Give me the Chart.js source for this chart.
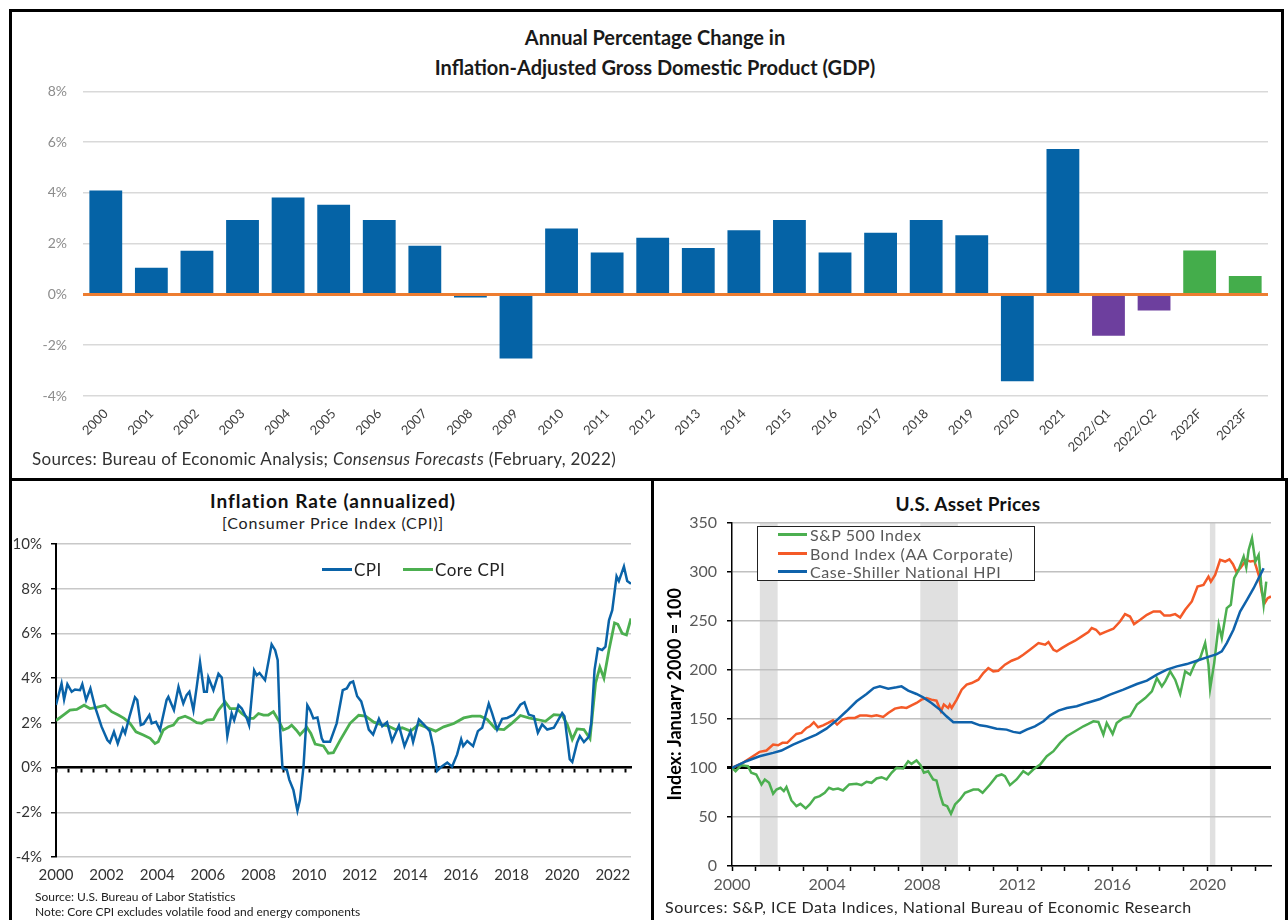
<!DOCTYPE html>
<html lang="en">
<head>
<meta charset="UTF-8">
<title>GDP, Inflation and U.S. Asset Prices</title>
<script src="https://cdn.jsdelivr.net/npm/chart.js"></script>
<style>
  body { margin: 0; background: #fff; font-family: Lato, "Open Sans", sans-serif; }
  #page { position: relative; width: 1288px; height: 920px; overflow: hidden; }
  .panel { position: absolute; border: 3px solid #000; box-sizing: border-box; }
  canvas, .txt { position: absolute; }
  .txt { white-space: nowrap; }
  .lg { position: absolute; height: 3px; }
</style>
</head>
<body>
<div id="page">
  <div class="panel" style="left:9px;top:9px;width:1275px;height:472px;"></div>
  <div class="panel" style="left:9px;top:478px;width:645px;height:460px;"></div>
  <div class="panel" style="left:651px;top:478px;width:637px;height:460px;"></div>

  <!-- top: GDP -->
  <div class="txt" style="left:355px;top:22px;width:600px;text-align:center;font-size:20px;line-height:30px;font-weight:bold;color:#1a1a1a;">
    Annual Percentage Change in<br>Inflation-Adjusted Gross Domestic Product (GDP)
  </div>
  <canvas id="gdpChart" width="1268" height="385" style="left:12px;top:67px;"></canvas>
  <div class="txt" style="left:32px;top:448px;font-size:17px;letter-spacing:0.3px;color:#333;">
    Sources: Bureau of Economic Analysis; <i>Consensus Forecasts</i> (February, 2022)
  </div>

  <!-- bottom left: inflation -->
  <div class="txt" style="left:133px;top:489px;width:400px;text-align:center;font-size:19px;letter-spacing:1px;font-weight:bold;color:#111;">Inflation Rate (annualized)</div>
  <div class="txt" style="left:133px;top:513px;width:400px;text-align:center;font-size:16px;letter-spacing:0.8px;color:#222;">[Consumer Price Index (CPI)]</div>
  <canvas id="cpiChart" width="636" height="374" style="left:12px;top:526px;"></canvas>
  <div class="lg" style="left:322px;top:568px;width:30px;background:#0a63a8;"></div>
  <div class="txt" style="left:354px;top:559px;font-size:17px;letter-spacing:0.5px;color:#222;">CPI</div>
  <div class="lg" style="left:403px;top:568px;width:30px;background:#4caf50;"></div>
  <div class="txt" style="left:435px;top:559px;font-size:17px;letter-spacing:0.5px;color:#222;">Core CPI</div>
  <div class="txt" style="left:35px;top:889px;font-size:12px;color:#222;">Source: U.S. Bureau of Labor Statistics</div>
  <div class="txt" style="left:35px;top:904px;font-size:12px;color:#222;">Note: Core CPI excludes volatile food and energy components</div>

  <!-- bottom right: asset prices -->
  <div class="txt" style="left:768px;top:492px;width:400px;text-align:center;font-size:19px;letter-spacing:0.3px;font-weight:bold;color:#111;">U.S. Asset Prices</div>
  <canvas id="assetChart" width="628" height="397" style="left:656px;top:503px;"></canvas>
  <div class="txt" style="left:757px;top:526px;width:278px;height:55px;background:#fff;border:1.5px solid #222;box-sizing:border-box;"></div>
  <div class="lg" style="left:778px;top:533px;width:29px;background:#4caf50;"></div>
  <div class="txt" style="left:810px;top:525px;font-size:16px;letter-spacing:0.6px;color:#595959;">S&amp;P 500 Index</div>
  <div class="lg" style="left:778px;top:552px;width:29px;background:#f45a28;"></div>
  <div class="txt" style="left:810px;top:544px;font-size:16px;letter-spacing:0.6px;color:#595959;">Bond Index (AA Corporate)</div>
  <div class="txt" style="left:810px;top:562px;font-size:16px;letter-spacing:0.6px;color:#595959;">Case-Shiller National HPI</div>
  <div class="lg" style="left:778px;top:570px;width:29px;background:#0f62ab;"></div>
  <div class="txt" style="left:665px;top:897px;font-size:16px;letter-spacing:0.5px;color:#262626;">Sources: S&amp;P, ICE Data Indices, National Bureau of Economic Research</div>
</div>

<script>
// ---- GDP (annual % change) ----
const gdpLabels = ['2000', '2001', '2002', '2003', '2004', '2005', '2006', '2007', '2008', '2009',
  '2010', '2011', '2012', '2013', '2014', '2015', '2016', '2017', '2018', '2019', '2020', '2021',
  '2022/Q1', '2022/Q2', '2022F', '2023F'];
const gdpValues = [4.1, 1.05, 1.72, 2.93, 3.82, 3.53, 2.93, 1.92, -0.12, -2.52,
  2.6, 1.65, 2.23, 1.83, 2.53, 2.93, 1.65, 2.43, 2.93, 2.33, -3.42, 5.73,
  -1.63, -0.63, 1.73, 0.73];
const gdpTicks = [-4, -2, 0, 2, 4, 6, 8];

// ---- Inflation (annualized, %) ----
const cpiYears = [2000.0, 2000.22, 2000.32, 2000.45, 2000.62, 2000.75, 2000.95, 2001.04, 2001.19, 2001.36,
  2001.54, 2001.8, 2002.03, 2002.13, 2002.29, 2002.44, 2002.64, 2002.73, 2002.92, 2003.12,
  2003.21, 2003.35, 2003.46, 2003.69, 2003.78, 2003.95, 2004.11, 2004.37, 2004.44, 2004.66,
  2004.84, 2004.93, 2005.03, 2005.16, 2005.27, 2005.43, 2005.56, 2005.69, 2005.85, 2005.96,
  2006.02, 2006.22, 2006.42, 2006.55, 2006.68, 2006.77, 2006.94, 2007.04, 2007.21, 2007.34,
  2007.54, 2007.63, 2007.83, 2007.93, 2008.04, 2008.26, 2008.52, 2008.66, 2008.76, 2008.85,
  2008.95, 2009.12, 2009.22, 2009.38, 2009.54, 2009.64, 2009.78, 2009.93, 2010.04, 2010.17,
  2010.33, 2010.5, 2010.57, 2010.83, 2011.09, 2011.33, 2011.49, 2011.62, 2011.74, 2011.9,
  2012.06, 2012.19, 2012.36, 2012.53, 2012.76, 2012.89, 2013.08, 2013.28, 2013.55, 2013.77,
  2014.01, 2014.11, 2014.34, 2014.53, 2014.77, 2014.9, 2015.06, 2015.19, 2015.46, 2015.65,
  2015.85, 2016.01, 2016.09, 2016.25, 2016.48, 2016.67, 2016.84, 2017.1, 2017.23, 2017.43,
  2017.63, 2017.83, 2018.09, 2018.35, 2018.51, 2018.68, 2018.88, 2019.04, 2019.21, 2019.41,
  2019.67, 2020.0, 2020.09, 2020.3, 2020.4, 2020.59, 2020.7, 2020.86, 2021.06, 2021.15,
  2021.28, 2021.41, 2021.58, 2021.71, 2021.85, 2021.98, 2022.15, 2022.24, 2022.44, 2022.57,
  2022.72];
const cpiValues = [2.8, 3.76, 3.05, 3.73, 3.39, 3.49, 3.46, 3.73, 3.02, 3.54,
  2.72, 1.83, 1.23, 1.11, 1.6, 1.08, 1.75, 1.53, 2.35, 3.14,
  3.02, 1.9, 1.95, 2.35, 1.98, 2.05, 1.68, 3.02, 3.16, 2.57,
  3.61, 3.24, 2.87, 3.24, 3.39, 2.57, 3.61, 4.72, 3.39, 3.39,
  4.03, 3.46, 4.2, 4.03, 2.57, 1.41, 2.42, 2.12, 2.79, 2.64,
  2.2, 1.9, 4.35, 4.13, 4.23, 3.91, 5.51, 5.25, 4.8, 1.83,
  -0.03, -0.1, -0.55, -1.0, -1.92, -1.44, 0.04, 2.79, 2.57, 2.2,
  2.24, 1.31, 1.16, 1.16, 1.98, 3.46, 3.54, 3.79, 3.85, 3.19,
  2.96, 2.44, 1.7, 1.48, 2.18, 1.85, 2.03, 1.19, 1.88, 0.96,
  1.63, 1.14, 2.15, 1.93, 1.63, 0.96, -0.15, 0, 0.22, 0.04,
  0.59, 1.26, 0.96, 1.19, 0.96, 1.63, 1.78, 2.86, 2.44, 1.7,
  2.18, 2.22, 2.37, 2.81, 2.92, 2.37, 2.3, 1.56, 1.93, 1.7,
  1.78, 2.44, 2.3, 0.37, 0.25, 1.11, 1.41, 1.14, 1.38, 2.0,
  4.37, 5.33, 5.26, 5.41, 6.59, 7.04, 8.55, 8.34, 8.99, 8.34,
  8.22];
const coreYears = [2000.0, 2000.29, 2000.55, 2000.82, 2001.11, 2001.34, 2001.61, 2001.94, 2002.2, 2002.46,
  2002.69, 2002.92, 2003.16, 2003.45, 2003.72, 2003.91, 2004.04, 2004.24, 2004.44, 2004.64,
  2004.84, 2005.1, 2005.3, 2005.56, 2005.76, 2005.96, 2006.22, 2006.42, 2006.68, 2006.88,
  2007.14, 2007.34, 2007.6, 2007.8, 2008.0, 2008.2, 2008.39, 2008.59, 2008.79, 2008.98,
  2009.18, 2009.31, 2009.49, 2009.64, 2009.91, 2010.07, 2010.24, 2010.57, 2010.76, 2010.96,
  2011.23, 2011.62, 2011.96, 2012.23, 2012.56, 2012.82, 2013.15, 2013.41, 2013.68, 2014.01,
  2014.34, 2014.67, 2015.0, 2015.32, 2015.72, 2016.11, 2016.44, 2016.77, 2017.04, 2017.37,
  2017.7, 2018.03, 2018.35, 2018.68, 2019.01, 2019.34, 2019.67, 2020.0, 2020.2, 2020.4,
  2020.59, 2020.86, 2021.1, 2021.32, 2021.49, 2021.65, 2021.85, 2022.07, 2022.2, 2022.37,
  2022.54, 2022.72];
const coreValues = [2.1, 2.35, 2.57, 2.6, 2.79, 2.64, 2.69, 2.79, 2.5, 2.35,
  2.2, 1.98, 1.6, 1.46, 1.31, 1.08, 1.16, 1.68, 1.83, 1.9,
  2.2, 2.3, 2.2, 2.01, 1.98, 2.12, 2.15, 2.57, 2.94, 2.64,
  2.64, 2.42, 2.2, 2.2, 2.42, 2.35, 2.35, 2.5, 2.12, 1.68,
  1.78, 1.9, 1.68, 1.46, 1.8, 1.53, 1.05, 0.97, 0.64, 0.67,
  1.23, 1.98, 2.34, 2.3, 2.03, 1.93, 1.85, 1.7, 1.78, 1.63,
  1.93, 1.78, 1.63, 1.82, 1.97, 2.22, 2.3, 2.3, 2.15, 1.73,
  1.7, 2.0, 2.33, 2.22, 2.15, 2.07, 2.37, 2.34, 1.93, 1.26,
  1.73, 1.7, 1.29, 3.78, 4.49, 4.0, 5.26, 6.47, 6.41, 6.0,
  5.93, 6.67];

// ---- U.S. asset prices (Jan 2000 = 100) ----
const spYears = [2000.0, 2000.15, 2000.39, 2000.67, 2000.81, 2001.02, 2001.24, 2001.38, 2001.56, 2001.73,
  2001.87, 2002.04, 2002.18, 2002.29, 2002.5, 2002.71, 2002.88, 2003.1, 2003.27, 2003.48,
  2003.69, 2003.9, 2004.08, 2004.25, 2004.46, 2004.67, 2004.93, 2005.24, 2005.45, 2005.66,
  2005.87, 2006.08, 2006.29, 2006.5, 2006.71, 2006.92, 2007.2, 2007.41, 2007.55, 2007.76,
  2007.93, 2008.07, 2008.25, 2008.46, 2008.6, 2008.77, 2008.88, 2009.05, 2009.21, 2009.38,
  2009.59, 2009.8, 2010.15, 2010.36, 2010.54, 2010.85, 2011.13, 2011.34, 2011.48, 2011.69,
  2011.97, 2012.25, 2012.46, 2012.67, 2012.96, 2013.24, 2013.52, 2013.8, 2014.08, 2014.43,
  2014.78, 2014.99, 2015.2, 2015.41, 2015.62, 2015.76, 2016.01, 2016.18, 2016.46, 2016.74,
  2017.03, 2017.38, 2017.66, 2017.87, 2018.08, 2018.22, 2018.43, 2018.64, 2018.85, 2019.06,
  2019.27, 2019.48, 2019.69, 2019.9, 2020.04, 2020.11, 2020.28, 2020.47, 2020.6, 2020.81,
  2020.98, 2021.12, 2021.31, 2021.52, 2021.63, 2021.73, 2021.87, 2022.01, 2022.15, 2022.26,
  2022.36, 2022.47];
const spValues = [100, 96.6, 102.7, 101.7, 95, 93.3, 83.1, 88.2, 84.8, 73.6,
  78, 79.7, 76.3, 80.4, 66.8, 61, 63.4, 58.7, 62.7, 69.5,
  71.2, 74.6, 79.7, 78, 79, 77, 83.1, 83.8, 82.4, 85.8,
  84.8, 89.2, 90.5, 88.2, 95, 100, 99.4, 106.8, 104.1, 107.5,
  102.7, 95, 96.6, 88.2, 87.1, 71.2, 62.7, 61, 53.2, 62.7,
  67.8, 74.6, 78, 78, 74.6, 83.1, 91.6, 93.3, 91.6, 82.4,
  88.2, 96.6, 93.3, 98.3, 103.4, 111.9, 117, 125.5, 132.2, 137.3,
  142.4, 144.8, 147.5, 146.8, 133.9, 145.8, 134.6, 145.8, 150.9, 152.6,
  164.5, 171.2, 178, 191.6, 183.1, 188.2, 198.4, 189.9, 175.3, 198.4,
  195, 206.8, 211.9, 227.2, 205.2, 180.7, 206.8, 245.8, 232.3, 262.8,
  266.2, 293.3, 301.8, 315.4, 304.2, 322.1, 334, 310.3, 317, 286.5,
  266.2, 289.9];
const bondYears = [2000.0, 2000.46, 2000.88, 2001.16, 2001.45, 2001.73, 2001.94, 2002.12, 2002.32, 2002.5,
  2002.71, 2002.92, 2003.13, 2003.27, 2003.44, 2003.62, 2003.83, 2004.04, 2004.25, 2004.42,
  2004.65, 2004.88, 2005.17, 2005.38, 2005.66, 2005.87, 2006.08, 2006.36, 2006.57, 2006.85,
  2007.13, 2007.34, 2007.55, 2007.76, 2007.97, 2008.18, 2008.39, 2008.6, 2008.79, 2008.91,
  2009.09, 2009.16, 2009.24, 2009.45, 2009.66, 2009.87, 2010.08, 2010.36, 2010.57, 2010.78,
  2010.99, 2011.2, 2011.48, 2011.76, 2012.04, 2012.25, 2012.53, 2012.89, 2013.17, 2013.31,
  2013.52, 2013.66, 2013.87, 2014.15, 2014.43, 2014.71, 2014.99, 2015.13, 2015.31, 2015.48,
  2015.76, 2016.04, 2016.32, 2016.53, 2016.74, 2016.91, 2017.17, 2017.45, 2017.73, 2018.01,
  2018.18, 2018.43, 2018.64, 2018.85, 2019.06, 2019.34, 2019.58, 2019.83, 2020.04, 2020.14,
  2020.32, 2020.53, 2020.74, 2020.92, 2021.07, 2021.21, 2021.38, 2021.63, 2021.8, 2021.97,
  2022.15, 2022.29, 2022.43, 2022.53, 2022.67];
const bondValues = [100, 105.1, 111.9, 116.3, 117.7, 123.8, 123.1, 125.5, 125.5, 129.9,
  134.6, 135.6, 140.7, 142.4, 146.5, 141.4, 143.4, 145.8, 148.5, 144.1,
  149.2, 150.9, 150.9, 153.3, 153.3, 152.6, 153.6, 151.9, 156, 160.4,
  161.8, 161.1, 163.8, 166.2, 169.6, 171.2, 169.6, 168.5, 157.7, 164.5,
  161.1, 164.5, 161.1, 169.6, 179.7, 184.8, 186.5, 189.9, 196.7, 201.8,
  198.4, 199, 205.2, 209.2, 211.9, 215.3, 220.4, 227.2, 225.5, 228.2,
  220.4, 218.7, 222.1, 226.2, 229.6, 234, 238.4, 242.5, 240.8, 236.3,
  239.1, 241.8, 249.2, 256.7, 254.3, 246.5, 250.9, 256, 259.4, 259.4,
  255.3, 255.3, 256.7, 253.3, 261.1, 269.6, 284.8, 286.5, 295, 289.9,
  296.7, 312, 310.3, 312.6, 307.6, 300.1, 303.5, 312, 310.3, 311,
  296.7, 278.1, 268.9, 273, 274.7];
const hpiYears = [2000.0, 2000.6, 2001.16, 2001.73, 2002.08, 2002.57, 2003.13, 2003.55, 2003.97, 2004.39,
  2004.81, 2005.24, 2005.66, 2005.96, 2006.22, 2006.57, 2006.92, 2007.13, 2007.41, 2007.76,
  2008.04, 2008.39, 2008.74, 2009.02, 2009.31, 2009.59, 2010.08, 2010.43, 2010.71, 2011.13,
  2011.55, 2011.83, 2012.11, 2012.39, 2012.74, 2013.1, 2013.38, 2013.73, 2014.08, 2014.5,
  2014.92, 2015.48, 2015.9, 2016.46, 2017.03, 2017.45, 2017.87, 2018.29, 2018.71, 2019.13,
  2019.55, 2019.97, 2020.39, 2020.6, 2020.81, 2021.09, 2021.37, 2021.66, 2021.94, 2022.22,
  2022.36];
const hpiValues = [100, 106.8, 111.9, 115.3, 117.7, 123.8, 129.5, 133.9, 140, 148.2,
  157.7, 167.9, 175.3, 181.4, 183.1, 180.7, 182.1, 183.1, 178.7, 175.3,
  171.9, 166.2, 159.4, 152.6, 146.5, 146.5, 146.5, 143.4, 142.4, 140,
  139, 136.7, 135.6, 139, 142.4, 147.5, 153.6, 158.4, 161.1, 162.8,
  166.2, 170.2, 174.6, 179.7, 185.5, 188.9, 195, 200.1, 203.5, 205.8,
  209.2, 212.6, 216, 218.7, 227.2, 240.8, 259.4, 271.3, 283.1, 296.7,
  303.5];
// NBER recessions (start / end, decimal years)
const recessionStart = [2001.17, 2007.92, 2020.1];
const recessionEnd = [2001.92, 2009.5, 2020.33];

Chart.defaults.font.family = 'Lato, "Open Sans", sans-serif';
Chart.defaults.animation = false;

const pairs = (xs, ys) => xs.map((x, i) => ({ x: x, y: ys[i] }));

// orange zero line over the GDP bars
const zeroLine = {
  id: 'zeroLine',
  afterDatasetsDraw(chart) {
    const { ctx, chartArea, scales } = chart;
    const py = scales.y.getPixelForValue(0);
    ctx.save();
    ctx.strokeStyle = '#ed7d31';
    ctx.lineWidth = 3;
    ctx.beginPath();
    ctx.moveTo(chartArea.left, py);
    ctx.lineTo(chartArea.right, py);
    ctx.stroke();
    ctx.restore();
  }
};

// grey recession bands behind everything
const recessionBands = {
  id: 'recessionBands',
  beforeDraw(chart) {
    const { ctx, chartArea, scales } = chart;
    ctx.save();
    ctx.fillStyle = '#e0e0e0';
    recessionStart.forEach((s, i) => {
      const x1 = scales.x.getPixelForValue(s);
      const x2 = scales.x.getPixelForValue(recessionEnd[i]);
      ctx.fillRect(x1, chartArea.top, x2 - x1, chartArea.bottom - chartArea.top);
    });
    ctx.restore();
  }
};

function barColor(label) {
  if (label.includes('/Q')) return '#6d3f9e';
  if (label.endsWith('F')) return '#44ad4b';
  return '#0563a6';
}

new Chart(document.getElementById('gdpChart'), {
  type: 'bar',
  data: {
    labels: gdpLabels,
    datasets: [{
      data: gdpValues,
      backgroundColor: gdpLabels.map(barColor),
      categoryPercentage: 1,
      barPercentage: 0.72
    }]
  },
  options: {
    responsive: false,
    layout: { padding: { top: 0, right: 12, left: 0, bottom: 0 } },
    plugins: { legend: { display: false }, tooltip: { enabled: false } },
    scales: {
      x: {
        afterFit: s => { s.height = 56; },
        grid: { display: false },
        border: { display: false },
        ticks: { minRotation: 45, maxRotation: 45, autoSkip: false, padding: 2, color: '#404040', font: { size: 13 } }
      },
      y: {
        min: -4, max: 8,
        afterFit: s => { s.width = 71; },
        afterBuildTicks: s => { s.ticks = gdpTicks.map(v => ({ value: v })); },
        border: { display: false },
        grid: { color: '#d9d9d9', lineWidth: 1.5, drawTicks: false },
        ticks: { padding: 16, color: '#8c8c8c', font: { size: 14 }, callback: v => v + '%' }
      }
    }
  },
  plugins: [zeroLine]
});

new Chart(document.getElementById('cpiChart'), {
  type: 'line',
  data: {
    datasets: [
      { label: 'CPI', data: pairs(cpiYears, cpiValues), borderColor: '#0a63a8', borderWidth: 2.5, pointRadius: 0, tension: 0 },
      { label: 'Core CPI', data: pairs(coreYears, coreValues), borderColor: '#4caf50', borderWidth: 2.8, pointRadius: 0, tension: 0 }
    ]
  },
  options: {
    responsive: false,
    layout: { padding: { top: 0, right: 17, left: 0, bottom: 0 } },
    plugins: { legend: { display: false }, tooltip: { enabled: false } },
    scales: {
      x: {
        type: 'linear', min: 2000, max: 2022.72,
        afterFit: s => { s.height = 43; },
        grid: { display: false, drawTicks: false },
        border: { display: false },
        ticks: { stepSize: 2, includeBounds: false, autoSkip: false, maxRotation: 0, padding: 9,
          color: '#333', font: { size: 15 }, callback: v => Number.isInteger(v) ? String(v) : '' }
      },
      x2: {
        axis: 'x', type: 'linear', position: { y: 0 }, min: 2000, max: 2022.72,
        grid: { drawOnChartArea: false, drawTicks: true, tickLength: 4, tickColor: '#000', tickWidth: 2 },
        border: { color: '#000', width: 2.5 },
        ticks: { display: false, stepSize: 0.5, includeBounds: false, autoSkip: false }
      },
      y: {
        min: -4, max: 10,
        afterFit: s => { s.width = 44; },
        border: { color: '#000', width: 2 },
        grid: { color: '#c8c8c8', lineWidth: 1.5, tickLength: 5, tickColor: '#000' },
        ticks: { stepSize: 2, padding: 9, color: '#333', font: { size: 15 }, callback: v => v + '%' }
      }
    }
  }
});

new Chart(document.getElementById('assetChart'), {
  type: 'line',
  data: {
    datasets: [
      { label: 'Case-Shiller National HPI', data: pairs(hpiYears, hpiValues), borderColor: '#0f62ab', borderWidth: 2.5, pointRadius: 0, tension: 0 },
      { label: 'S&P 500 Index', data: pairs(spYears, spValues), borderColor: '#4caf50', borderWidth: 2.5, pointRadius: 0, tension: 0 },
      { label: 'Bond Index (AA Corporate)', data: pairs(bondYears, bondValues), borderColor: '#f45a28', borderWidth: 2.5, pointRadius: 0, tension: 0 }
    ]
  },
  options: {
    responsive: false,
    layout: { padding: { top: 0, right: 13, left: 0, bottom: 0 } },
    plugins: { legend: { display: false }, tooltip: { enabled: false } },
    scales: {
      x: {
        type: 'linear', min: 2000, max: 2022.67,
        afterFit: s => { s.height = 34; },
        grid: { drawOnChartArea: false, tickLength: 5, tickColor: '#000', tickWidth: 1.5 },
        border: { color: '#000', width: 1.5 },
        ticks: { stepSize: 1, includeBounds: false, autoSkip: false, maxRotation: 0, padding: 4,
          color: '#595959', font: { size: 16 }, callback: v => (v % 4 === 0 ? String(v) : '') }
      },
      y: {
        min: 0, max: 350,
        afterFit: s => { s.width = 76; },
        border: { color: '#000', width: 1.5 },
        grid: {
          color: c => (c.tick && c.tick.value === 100 ? '#000' : '#c0c0c0'),
          lineWidth: c => (c.tick && c.tick.value === 100 ? 3 : 1.5),
          tickLength: 5, tickColor: '#000'
        },
        ticks: { stepSize: 50, padding: 10, color: '#595959', font: { size: 16 } },
        title: { display: true, text: 'Index: January 2000 = 100', color: '#000',
          font: { size: 18, weight: 'bold' }, padding: { top: 8, bottom: 0 } }
      }
    }
  },
  plugins: [recessionBands]
});
</script>
</body>
</html>
